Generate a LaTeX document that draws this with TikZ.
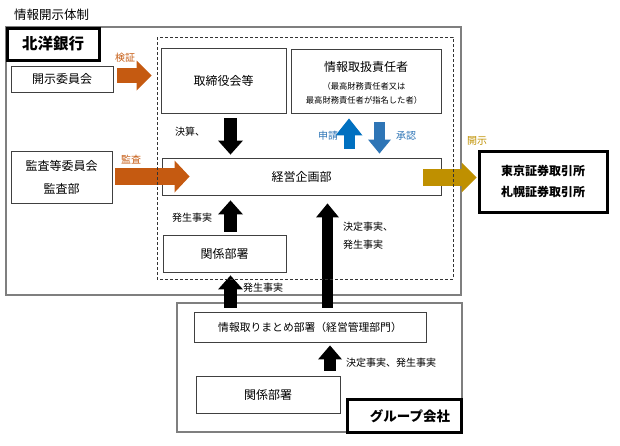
\documentclass[tikz,border=0pt]{standalone}
\usepackage{fontspec}
\setmainfont{Noto Sans CJK JP}
\usetikzlibrary{arrows.meta}
\definecolor{orng}{HTML}{C55A11}
\definecolor{gold}{HTML}{BF9000}
\definecolor{blueA}{HTML}{0070C0}
\definecolor{blueB}{HTML}{2E75B6}
\definecolor{frm}{HTML}{7F7F7F}
\definecolor{bx}{HTML}{404040}
\begin{document}
\begin{tikzpicture}[x=1pt,y=-1pt,
  box/.style={draw=bx, line width=0.9pt, fill=white, inner sep=0pt, align=center, font=\fontsize{12}{14}\selectfont},
  heavybox/.style={draw=black, line width=3pt, fill=white, inner sep=0pt, align=center},
  frame/.style={draw=frm, line width=1.5pt},
  lbl/.style={inner sep=0pt, font=\fontsize{10}{12}\selectfont},
  barrow/.style args={#1/#2/#3}{line width=#1pt, -{Triangle[width=#2pt,length=#3pt,line width=0pt]}}
]
\useasboundingbox (0,0) rectangle (620,445);

% frames
\draw[frame] (6,27) rectangle (461,295);
\draw[frame] (177,303) rectangle (462,432);

% title
\node[inner sep=0pt, anchor=west, font=\fontsize{12.5}{14}\selectfont] (title) at (14,15) {情報開示体制};

% bank boxes
\node[heavybox, minimum width=92pt, minimum height=32pt, font=\fontsize{15.5}{18}\bfseries] (hokuyo) at (53,44) {北洋銀行};
\node[box, minimum width=102pt, minimum height=26pt] (kaiji) at (62,79) {開示委員会};
\node[box, minimum width=101pt, minimum height=52pt, font=\fontsize{12}{23}\selectfont] (kansa) at (61.5,177.5) {監査等委員会\\監査部};
\node[box, minimum width=125pt, minimum height=65pt] (torishimari) at (223.5,80.5) {取締役会等};
\node[box, minimum width=150pt, minimum height=64pt] (joho) at (366,81) {};
\node[inner sep=0pt, font=\fontsize{12}{14}\selectfont] (johot) at (366,67) {情報取扱責任者};
\node[inner sep=0pt, align=center, font=\fontsize{8.3}{14}\selectfont] (johos) at (364,93) {（最高財務責任者又は\\最高財務責任者が指名した者）};
\node[box, minimum width=279pt, minimum height=37pt] (keiei) at (301.5,176.5) {経営企画部};
\node[box, minimum width=123pt, minimum height=37pt] (kankei1) at (224.5,253.5) {関係部署};

% exchanges
\node[heavybox, minimum width=128pt, minimum height=61pt, font=\fontsize{12}{21}\bfseries] (tse) at (543,181.5) {東京証券取引所\\札幌証券取引所};

% group company
\node[box, minimum width=232pt, minimum height=30pt, font=\fontsize{10.8}{13}\selectfont] (matome) at (310,327) {情報取りまとめ部署（経営管理部門）};
\node[box, minimum width=144pt, minimum height=37pt] (kankei2) at (268,394.5) {関係部署};
\node[heavybox, minimum width=114pt, minimum height=33pt] (group) at (404,415.5) {};
\node[inner sep=0pt, font=\fontsize{13.5}{16}\bfseries] (groupt) at (410,416) {グループ会社};

% columns and rows
\coordinate (xa) at (230.5,0);
\coordinate (xu) at (349,0);
\coordinate (xd) at (379.5,0);
\coordinate (xl) at (327.5,0);
\coordinate (xg) at (330,0);
\coordinate (ya) at (0,75.5);
\coordinate (yb) at (0,176.5);
\coordinate (yc) at (0,177.5);

% arrows
\draw[orng, barrow=15/30/15, shorten <=4pt, shorten >=9pt] (kaiji.east |- ya) -- (torishimari.west |- ya);
\draw[orng, barrow=17/32/15, shorten <=3pt, shorten >=-28pt] (kansa.east |- yb) -- (keiei.west |- yb);
\draw[gold, barrow=17/30/15, shorten <=-18pt, shorten >=1pt] (keiei.east |- yc) -- (tse.west |- yc);
\draw[black, barrow=13/25/14, shorten <=5pt, shorten >=3pt] (torishimari.south -| xa) -- (keiei.north -| xa);
\draw[blueA, barrow=11/27/17, shorten <=9pt, shorten >=5pt] (keiei.north -| xu) -- (joho.south -| xu);
\draw[blueB, barrow=11/23/14, shorten <=9pt, shorten >=4pt] (joho.south -| xd) -- (keiei.north -| xd);
\draw[black, barrow=13/25/14, shorten <=3pt, shorten >=5pt] (kankei1.north -| xa) -- (keiei.south -| xa);
\draw[black, barrow=11/23/14, shorten <=4pt, shorten >=8pt] (matome.north -| xl) -- (keiei.south -| xl);
\draw[black, barrow=13/25/14, shorten <=4pt, shorten >=3pt] (matome.north -| xa) -- (kankei1.south -| xa);
\draw[black, barrow=12/24/14, shorten <=5pt, shorten >=3pt] (kankei2.north -| xg) -- (matome.south -| xg);

% dashed region
\draw[black!80, line width=0.8pt, dash pattern=on 3pt off 2pt] (157,37) rectangle (453,279);

% labels
\node[lbl, text=orng] (l1) at (125,58) {検証};
\node[lbl, text=orng] (l2) at (131,160) {監査};
\node[lbl, text=gold] (l3) at (477,141) {開示};
\node[lbl, anchor=west] (l4) at (175,132) {決算、};
\node[lbl, text=blueB] (l5) at (328,136) {申請};
\node[lbl, text=blueB] (l6) at (406,136) {承認};
\node[lbl] (l7) at (192,218) {発生事実};
\node[lbl, anchor=west] (l8) at (343,227) {決定事実、};
\node[lbl, anchor=west] (l9) at (343,245) {発生事実};
\node[lbl] (l10) at (263,288) {発生事実};
\node[lbl, anchor=west] (l11) at (346,363) {決定事実、発生事実};
\end{tikzpicture}
\end{document}
